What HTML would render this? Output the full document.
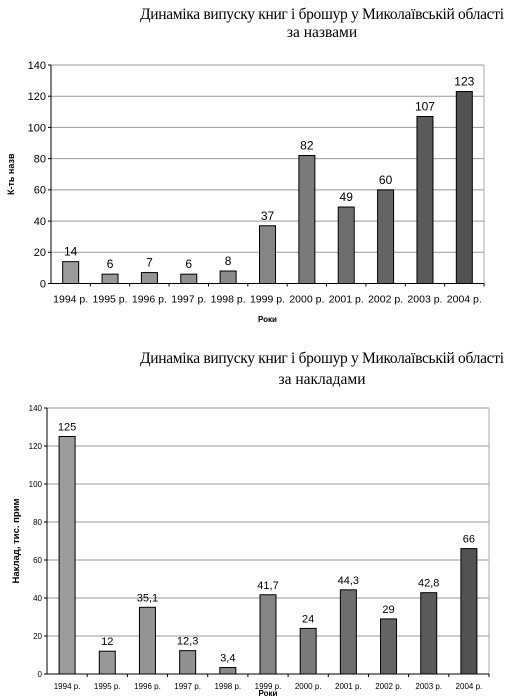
<!DOCTYPE html>
<html><head><meta charset="utf-8">
<style>
body{margin:0;background:#fff;}
svg{display:block;}
</style></head>
<body>
<svg id="svg" width="516" height="700" xmlns="http://www.w3.org/2000/svg">
<text x="322" y="19" font-family="Liberation Serif, serif" font-size="15.5" text-anchor="middle" textLength="364">Динаміка випуску книг і брошур у Миколаївській області</text>
<text x="322" y="37" font-family="Liberation Serif, serif" font-size="15.5" text-anchor="middle">за назвами</text>
<text x="322" y="363" font-family="Liberation Serif, serif" font-size="15.5" text-anchor="middle" textLength="364">Динаміка випуску книг і брошур у Миколаївській області</text>
<text x="322" y="384" font-family="Liberation Serif, serif" font-size="15.5" text-anchor="middle">за накладами</text>
<g id="c1"></g>
<g id="c2"></g>
</svg>
<script>
const categories = ["1994 р.","1995 р.","1996 р.","1997 р.","1998 р.","1999 р.","2000 р.","2001 р.","2002 р.","2003 р.","2004 р."];
const titlesValues = [14,6,7,6,8,37,82,49,60,107,123];
const titlesLabels = ["14","6","7","6","8","37","82","49","60","107","123"];
const runsValues = [125,12,35.1,12.3,3.4,41.7,24,44.3,29,42.8,66];
const runsLabels = ["125","12","35,1","12,3","3,4","41,7","24","44,3","29","42,8","66"];
const yTicks = [0,20,40,60,80,100,120,140];
const NS="http://www.w3.org/2000/svg";
const shades=["#9c9c9c","#989898","#949494","#909090","#8a8a8a","#858585","#7a7a7a","#6e6e6e","#646464","#5a5a5a","#525252"];
function mk(parent,tag,attrs,txt){const e=document.createElementNS(NS,tag);for(const k in attrs)e.setAttribute(k,attrs[k]);if(txt!==undefined)e.textContent=txt;parent.appendChild(e);return e;}
function draw(g,cfg,values,labels,prefix){
  const y=v=>cfg.y0-(v/140)*(cfg.y0-cfg.y140);
  const step=(cfg.right-cfg.left)/categories.length;
  const x=i=>cfg.left+step*(i+0.5);
  yTicks.forEach(t=>{
    if(t>0){const l=mk(g,"line",{x1:cfg.left,x2:cfg.right,y1:y(t),y2:y(t),stroke:"#999","stroke-width":1});
    
    }
    const tk=mk(g,"line",{x1:cfg.left-3,x2:cfg.left,y1:y(t),y2:y(t),stroke:"#000"});
    
    
    const tl=mk(g,"text",{x:cfg.left-5,y:y(t)+cfg.yfs*0.35,"font-size":cfg.yfs,"text-anchor":"end","font-family":"Liberation Sans, sans-serif"},String(t));
    
    
  });
  const rb=mk(g,"line",{x1:cfg.right,x2:cfg.right,y1:cfg.y140,y2:cfg.y0,stroke:"#aaa"});
  
  
  const ya=mk(g,"line",{x1:cfg.left,x2:cfg.left,y1:cfg.y140,y2:cfg.y0,stroke:"#000"});
  
  
  const xa=mk(g,"line",{x1:cfg.left,x2:cfg.right,y1:cfg.y0,y2:cfg.y0,stroke:"#000"});
  
  
  categories.forEach((c,i)=>{
    const tk=mk(g,"line",{x1:cfg.left+step*(i+1),x2:cfg.left+step*(i+1),y1:cfg.y0,y2:cfg.y0+3,stroke:"#000"});
    
    
    const b=mk(g,"rect",{x:x(i)-8,y:y(values[i]),width:16,height:cfg.y0-y(values[i]),fill:shades[i],stroke:"#000","stroke-width":1});
    
    
    const v=mk(g,"text",{x:x(i),y:y(values[i])-6,"font-size":cfg.vfs,"text-anchor":"middle","font-family":"Liberation Sans, sans-serif"},labels[i]);
    
    
    const cl=mk(g,"text",{x:x(i),y:cfg.y0+cfg.xly,"font-size":cfg.tfs,"text-anchor":"middle","font-family":"Liberation Sans, sans-serif"},c);
    
    
  });
  const xt=mk(g,"text",{x:(cfg.left+cfg.right)/2,y:cfg.xty,"font-size":8,"font-weight":"bold","text-anchor":"middle","font-family":"Liberation Sans, sans-serif"},"Роки");
  
  
  const cy=(cfg.y0+cfg.y140)/2;
  const yt=mk(g,"text",{x:cfg.ytx,y:cy,"font-size":cfg.ytfs,"font-weight":"bold","text-anchor":"middle","font-family":"Liberation Sans, sans-serif",transform:"rotate(-90 "+cfg.ytx+" "+cy+")"},cfg.ytitle);
  
  
}
draw(document.getElementById("c1"),{left:51,right:484,y0:283.5,y140:65,tfs:10.5,yfs:11,vfs:12,xly:19,xty:322,ytx:14,ytfs:9,ytitle:"К-ть назв"},titlesValues,titlesLabels,"chart1");
draw(document.getElementById("c2"),{left:47,right:489,y0:674,y140:408,tfs:8,yfs:8,vfs:11,xly:15,xty:696,ytx:19,ytfs:9.5,ytitle:"Наклад, тис. прим"},runsValues,runsLabels,"chart2");
</script>
</body></html>
